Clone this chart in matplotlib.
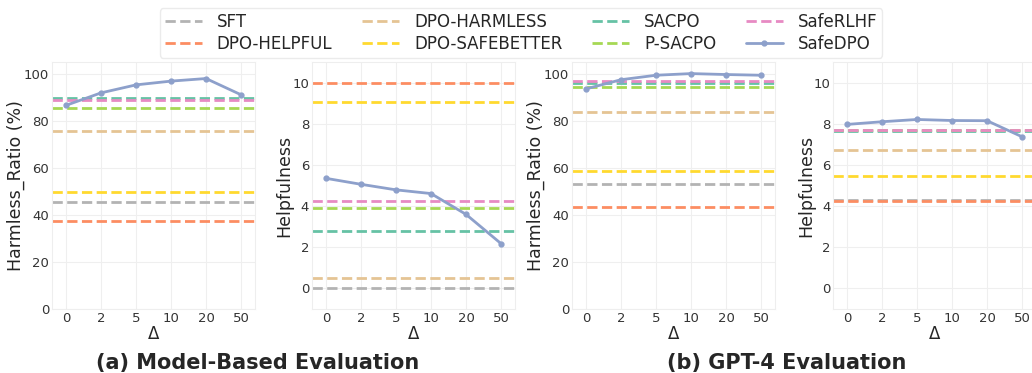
import numpy as np
import matplotlib
matplotlib.use("Agg")
import matplotlib.pyplot as plt
import seaborn as sns

sns.set_theme(style="whitegrid")
plt.rcParams['font.family'] = ['DejaVu Sans']

deltas = ["0", "2", "5", "10", "20", "50"]
methods = ["SFT", "DPO-HELPFUL", "DPO-HARMLESS", "DPO-SAFEBETTER",
           "SACPO", "P-SACPO", "SafeRLHF"]
colors = {"SFT": "#b3b3b3", "DPO-HELPFUL": "#fc8d62", "DPO-HARMLESS": "#e5c494",
          "DPO-SAFEBETTER": "#ffd92f", "SACPO": "#66c2a5", "P-SACPO": "#a6d854",
          "SafeRLHF": "#e78ac3", "SafeDPO": "#8da0cb"}

# (a) model-based evaluation
mb_harm_base = [45.5, 37.6, 75.8, 49.7, 89.7, 85.5, 89.0]
mb_harm_safedpo = [86.6, 91.9, 95.3, 96.9, 98.0, 91.1]
mb_help_base = [0.0, 10.0, 0.52, 9.08, 2.81, 3.89, 4.24]
mb_help_safedpo = [5.35, 5.06, 4.79, 4.61, 3.60, 2.18]

# (b) GPT-4 evaluation
gpt_harm_base = [53.0, 43.4, 83.9, 58.8, 96.2, 94.4, 96.8]
gpt_harm_safedpo = [93.6, 97.5, 99.4, 100.1, 99.7, 99.4]
gpt_help_base = [4.30, 4.27, 6.71, 5.44, 7.63, 7.69, 7.69]
gpt_help_safedpo = [7.97, 8.10, 8.21, 8.16, 8.15, 7.37]

fig = plt.figure(figsize=(10.32, 3.73), dpi=100)
lefts = [0.0504, 0.3023, 0.5543, 0.8072]
panels = [(mb_harm_base, mb_harm_safedpo, "Harmless_Ratio (%)", (0, 105), [0, 20, 40, 60, 80, 100]),
          (mb_help_base, mb_help_safedpo, "Helpfulness", (-1, 11), [0, 2, 4, 6, 8, 10]),
          (gpt_harm_base, gpt_harm_safedpo, "Harmless_Ratio (%)", (0, 105), [0, 20, 40, 60, 80, 100]),
          (gpt_help_base, gpt_help_safedpo, "Helpfulness", (-1, 11), [0, 2, 4, 6, 8, 10])]

x = np.arange(len(deltas))
handles = []
for i, (base, safe, ylab, ylim, yt) in enumerate(panels):
    ax = fig.add_axes([lefts[i], 0.1716, 0.1967, 0.662])
    hs = []
    for m, v in zip(methods, base):
        h = ax.axhline(v, color=colors[m], linestyle="--", linewidth=2, label=m)
        hs.append(h)
    h, = ax.plot(x, safe, color=colors["SafeDPO"], marker="o", markersize=3.5,
                 linewidth=2, label="SafeDPO")
    hs.append(h)
    if i == 0:
        handles = hs
    ax.set_xlim(-0.4, 5.4)
    ax.set_ylim(*ylim)
    ax.set_yticks(yt)
    ax.set_xticks(x)
    ax.set_xticklabels(deltas)
    ax.tick_params(labelsize=9.5, colors="#333333", pad=2, length=0)
    ax.set_xlabel("Δ", fontsize=12, color="#262626", labelpad=0)
    ax.set_ylabel(ylab, fontsize=12.5, color="#262626", labelpad=-1)
    ax.grid(color="#efefef", linewidth=0.8)
    for s in ax.spines.values():
        s.set_color("#eeeeee")
        s.set_linewidth(0.8)

fig.legend(handles=handles, labels=[h.get_label() for h in handles], ncol=4,
           loc="upper center", bbox_to_anchor=(0.505, 1.0), fontsize=12,
           frameon=True, columnspacing=1.8, handlelength=2.2, handletextpad=0.9,
           borderpad=0.3, labelspacing=0.2, edgecolor="#e6e6e6")

fig.text(0.25, 0.01, "(a) Model-Based Evaluation", ha="center", fontsize=15,
         fontweight="bold", color="#262626")
fig.text(0.762, 0.01, "(b) GPT-4 Evaluation", ha="center", fontsize=15,
         fontweight="bold", color="#262626")

fig.savefig("out.png", dpi=100)
